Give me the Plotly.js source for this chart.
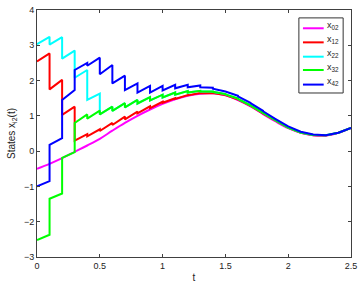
<!DOCTYPE html>
<html>
<head>
<meta charset="utf-8">
<script src="https://cdn.plot.ly/plotly-3.0.1.min.js"></script>
<style>html,body{margin:0;padding:0;background:#fff;}#chart{width:362px;height:286px;}</style>
</head>
<body>
<div id="chart"></div>
<script>
// time grid (impulse instants every 0.1)
const t = [0,0.1,0.2,0.3,0.4,0.5,0.6,0.7,0.8,0.9,1.0,1.1,1.2,1.3,1.4,1.5,1.6,1.7,1.8,1.9,2.0,2.1,2.2,2.3,2.4,2.5];

// leader x02
const x02 = [-0.5,-0.36,-0.2,-0.02,0.16,0.35,0.58,0.8,1.0,1.18,1.34,1.47,1.57,1.63,1.64,1.58,1.45,1.27,1.05,0.84,0.65,0.52,0.45,0.44,0.52,0.66];

// followers: initial value, value just before and just after each impulse (t = 0.1 ... 2.5)
const x12_init = 2.54;
const x12_pre  = [2.77,2.02,1.26,0.48,0.62,0.80,0.98,1.12,1.27,1.40,1.50,1.59,1.65,1.65,1.59,1.46,1.28,1.06,0.85,0.66,0.52,0.45,0.44,0.52,0.66];
const x12_post = [1.75,1.03,0.30,0.42,0.57,0.74,0.90,1.07,1.22,1.37,1.48,1.58,1.64,1.65,1.59,1.46,1.28,1.06,0.85,0.66,0.52,0.45,0.44,0.52,0.66];

const x22_init = 3.03;
const x22_pre  = [3.24,3.23,2.85,2.30,1.63,1.26,1.36,1.45,1.53,1.60,1.66,1.70,1.71,1.69,1.62,1.49,1.30,1.08,0.87,0.67,0.53,0.46,0.45,0.52,0.66];
const x22_post = [3.02,2.62,2.08,1.45,1.04,1.14,1.24,1.35,1.44,1.52,1.60,1.66,1.69,1.68,1.61,1.48,1.30,1.08,0.87,0.67,0.53,0.46,0.45,0.52,0.66];

const x32_init = -2.52;
const x32_pre  = [-2.37,-1.20,-0.03,1.04,1.15,1.26,1.36,1.45,1.53,1.60,1.66,1.70,1.71,1.69,1.62,1.49,1.30,1.08,0.87,0.67,0.53,0.46,0.45,0.52,0.66];
const x32_post = [-1.35,-0.19,0.80,0.92,1.04,1.14,1.24,1.35,1.44,1.52,1.60,1.66,1.69,1.68,1.61,1.48,1.30,1.08,0.87,0.67,0.53,0.46,0.45,0.52,0.66];

const x42_init = -1.0;
const x42_pre  = [-0.85,0.37,1.73,2.50,2.65,2.44,2.14,1.92,1.85,1.85,1.88,1.88,1.86,1.80,1.71,1.57,1.37,1.14,0.91,0.70,0.55,0.47,0.45,0.52,0.66];
const x42_post = [0.18,1.45,2.30,2.42,2.18,1.92,1.73,1.66,1.66,1.72,1.78,1.81,1.81,1.77,1.69,1.55,1.36,1.13,0.91,0.70,0.55,0.47,0.45,0.52,0.66];

const names = ['x<sub>02</sub>','x<sub>12</sub>','x<sub>22</sub>','x<sub>32</sub>','x<sub>42</sub>'];
const colors = ['#ff00ff','#ff0000','#00ffff','#00ff00','#0000ff'];

function steps(init, pre, post){
  const xs=[t[0]], ys=[init];
  for(let i=0;i<pre.length;i++){ xs.push(t[i+1], t[i+1]); ys.push(pre[i], post[i]); }
  return {x:xs, y:ys};
}

const series = [
  {x:t, y:x02},
  steps(x12_init,x12_pre,x12_post),
  steps(x22_init,x22_pre,x22_post),
  steps(x32_init,x32_pre,x32_post),
  steps(x42_init,x42_pre,x42_post)
];

const data = series.map((s,i)=>({
  x:s.x, y:s.y, type:'scatter', mode:'lines', name:names[i], showlegend:false,
  line:{color:colors[i], width:2, shape: i===0 ? 'spline' : 'linear'}
}));

const FONT = 'Liberation Sans, Arial, sans-serif';
const axisCommon = {
  showline:true, mirror:'ticks', linecolor:'#404040', linewidth:1,
  ticks:'inside', ticklen:3, tickcolor:'#404040',
  showgrid:false, zeroline:false, automargin:false,
  tickfont:{family:FONT, size:9, color:'#222'}
};

// compact MATLAB-style legend box (paper coordinates)
const legBox = {x0:0.834, x1:0.975, y0:0.664, y1:0.968};
const legRows = [0.926, 0.869, 0.811, 0.757, 0.698];
const shapes = [{type:'rect', xref:'paper', yref:'paper', x0:legBox.x0, x1:legBox.x1, y0:legBox.y0, y1:legBox.y1,
  line:{color:'#333', width:1}, fillcolor:'#fff', layer:'above'}];
const annotations = [];
names.forEach((n,i)=>{
  shapes.push({type:'line', xref:'paper', yref:'paper', x0:0.847, x1:0.913, y0:legRows[i], y1:legRows[i],
    line:{color:colors[i], width:2}, layer:'above'});
  annotations.push({xref:'paper', yref:'paper', x:0.918, y:legRows[i]+0.012, xanchor:'left', yanchor:'middle',
    text:n, showarrow:false, font:{family:FONT, size:9, color:'#222'}});
});

const layout = {
  width:362, height:286,
  margin:{l:37, r:11, t:10, b:29},
  paper_bgcolor:'#fff', plot_bgcolor:'#fff',
  showlegend:false,
  shapes:shapes, annotations:annotations,
  xaxis:Object.assign({}, axisCommon, {range:[0,2.5], tickvals:[0,0.5,1,1.5,2,2.5], ticktext:['0','0.5','1','1.5','2','2.5'],
    title:{text:'t', standoff:4, font:{family:FONT, size:10, color:'#222'}}}),
  yaxis:Object.assign({}, axisCommon, {range:[-3,4], tickvals:[-3,-2,-1,0,1,2,3,4],
    title:{text:'States x<sub>i2</sub>(t)', standoff:6, font:{family:FONT, size:10, color:'#222'}}})
};

Plotly.newPlot('chart', data, layout, {displayModeBar:false, staticPlot:true});
</script>
</body>
</html>
